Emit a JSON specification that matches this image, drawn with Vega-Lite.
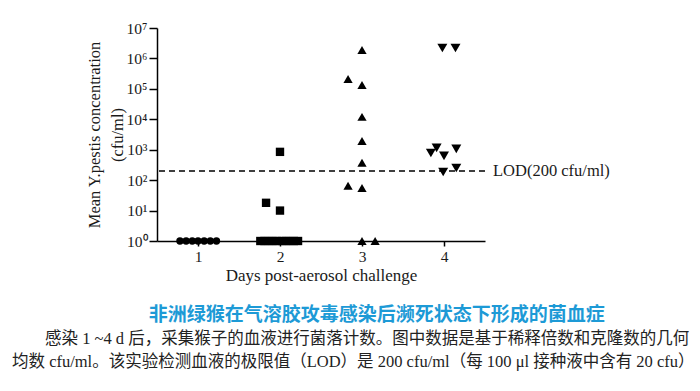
{
  "$schema": "https://vega.github.io/schema/vega-lite/v6.json",
  "width": 328,
  "height": 213,
  "autosize": {"type": "none"},
  "padding": {"left": 157, "top": 28, "right": 215, "bottom": 150},
  "background": "white",
  "config": {
    "view": {"stroke": null},
    "font": "Liberation Serif",
    "axis": {
      "grid": false,
      "domainColor": "black",
      "domainWidth": 1.5,
      "tickColor": "black",
      "tickWidth": 1.5,
      "labelColor": "#1a1a1a",
      "labelFont": "Liberation Serif",
      "labelFontSize": 15.5,
      "titleFont": "Liberation Serif",
      "titleFontSize": 16.5,
      "titleFontWeight": "normal",
      "titleColor": "#1a1a1a"
    }
  },
  "title": {
    "text": "\u200b\u3000\u3000\u3000\u3000\u3000\u3000\u3000\u2009非洲绿猴在气溶胶攻毒感染后濒死状态下形成的菌血症",
    "orient": "bottom",
    "anchor": "start",
    "frame": "group",
    "dx": -145,
    "offset": 22,
    "font": "Noto Sans CJK SC",
    "fontSize": 19,
    "fontWeight": "bold",
    "color": "#1d9ad6",
    "subtitle": [
      "\u200b\u3000\u3000感染 1 ~4 d 后，采集猴子的血液进行菌落计数。图中数据是基于稀释倍数和克隆数的几何",
      "均数 cfu/ml。该实验检测血液的极限值（LOD）是 200 cfu/ml（每 100 μl 接种液中含有 20 cfu）"
    ],
    "subtitleFont": "Liberation Serif, Noto Sans CJK SC",
    "subtitleFontSize": 16.5,
    "subtitleColor": "#222222",
    "subtitleLineHeight": 23,
    "subtitlePadding": 6
  },
  "datasets": {
    "points": [
      {"day": 1, "x": 0.78, "value": 1},
      {"day": 1, "x": 0.855, "value": 1},
      {"day": 1, "x": 0.93, "value": 1},
      {"day": 1, "x": 1.0, "value": 1},
      {"day": 1, "x": 1.075, "value": 1},
      {"day": 1, "x": 1.15, "value": 1},
      {"day": 1, "x": 1.225, "value": 1},
      {"day": 2, "x": 1.76, "value": 1},
      {"day": 2, "x": 1.81, "value": 1},
      {"day": 2, "x": 1.86, "value": 1},
      {"day": 2, "x": 1.91, "value": 1},
      {"day": 2, "x": 1.96, "value": 1},
      {"day": 2, "x": 2.02, "value": 1},
      {"day": 2, "x": 2.07, "value": 1},
      {"day": 2, "x": 2.12, "value": 1},
      {"day": 2, "x": 2.17, "value": 1},
      {"day": 2, "x": 2.22, "value": 1},
      {"day": 2, "x": 2.0, "value": 850},
      {"day": 2, "x": 1.83, "value": 18},
      {"day": 2, "x": 2.0, "value": 10},
      {"day": 3, "x": 3.0, "value": 1900000},
      {"day": 3, "x": 2.83, "value": 210000},
      {"day": 3, "x": 3.0, "value": 135000},
      {"day": 3, "x": 3.0, "value": 12000},
      {"day": 3, "x": 3.0, "value": 1950},
      {"day": 3, "x": 3.0, "value": 370},
      {"day": 3, "x": 2.83, "value": 65},
      {"day": 3, "x": 3.0, "value": 55},
      {"day": 3, "x": 3.0, "value": 1},
      {"day": 3, "x": 3.16, "value": 1},
      {"day": 4, "x": 3.98, "value": 2200000},
      {"day": 4, "x": 4.14, "value": 2200000},
      {"day": 4, "x": 3.84, "value": 780},
      {"day": 4, "x": 3.91, "value": 1150},
      {"day": 4, "x": 4.0, "value": 630},
      {"day": 4, "x": 4.15, "value": 1070},
      {"day": 4, "x": 3.99, "value": 185},
      {"day": 4, "x": 4.15, "value": 250}
    ],
    "lod": [
      {"x": 4.5, "value": 200, "label": "LOD(200 cfu/ml)"}
    ]
  },
  "layer": [
    {
      "data": {"name": "lod"},
      "mark": {"type": "rule", "color": "black", "strokeWidth": 1.3, "strokeDash": [6, 4]},
      "encoding": {
        "y": {"field": "value", "type": "quantitative"}
      }
    },
    {
      "data": {"name": "lod"},
      "mark": {"type": "text", "align": "left", "baseline": "middle", "dx": 8, "fontSize": 16.5, "font": "Liberation Serif", "color": "#1a1a1a"},
      "encoding": {
        "x": {"field": "x", "type": "quantitative"},
        "y": {"field": "value", "type": "quantitative"},
        "text": {"field": "label"}
      }
    },
    {
      "data": {"name": "points"},
      "mark": {"type": "point", "filled": true, "opacity": 1, "color": "black"},
      "encoding": {
        "x": {
          "field": "x",
          "type": "quantitative",
          "scale": {"domain": [0.5, 4.5], "nice": false, "zero": false},
          "axis": {"values": [1, 2, 3, 4], "tickSize": 5, "labelPadding": 3, "title": "Days post-aerosol challenge", "titleFontSize": 17, "titlePadding": 3, "format": "d"}
        },
        "y": {
          "field": "value",
          "type": "quantitative",
          "scale": {"type": "log", "domain": [1, 10000000], "nice": false},
          "axis": {
            "values": [1, 10, 100, 1000, 10000, 100000, 1000000, 10000000],
            "tickSize": 8,
            "labelPadding": 2,
            "labelExpr": "'10' + ['⁰','¹','²','³','⁴','⁵','⁶','⁷'][round(log(datum.value)/LN10)]",
            "title": ["Mean Y.pestis concentration", "(cfu/ml)"],
            "titleLineHeight": 23,
            "titlePadding": 1
          }
        },
        "shape": {
          "field": "day",
          "type": "nominal",
          "scale": {"domain": [1, 2, 3, 4], "range": ["circle", "square", "triangle-up", "triangle-down"]},
          "legend": null
        },
        "size": {
          "field": "day",
          "type": "ordinal",
          "scale": {"domain": [1, 2, 3, 4], "range": [55, 100, 85, 85]},
          "legend": null
        }
      }
    }
  ]
}
